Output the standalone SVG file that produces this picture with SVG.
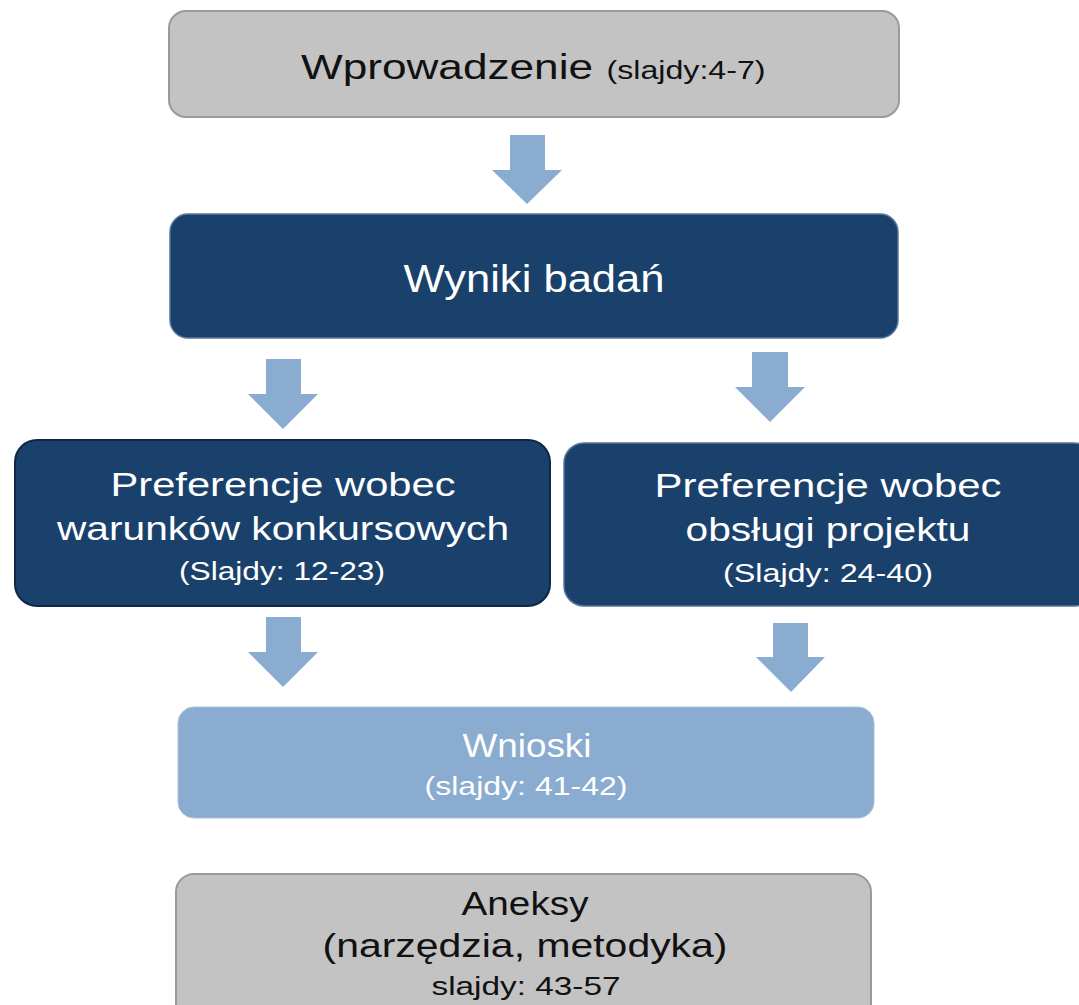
<svg xmlns="http://www.w3.org/2000/svg" width="1079" height="1005" viewBox="0 0 1079 1005">
<style>
.gray{fill:#c3c3c3;stroke:#9a9a9a;stroke-width:2}
.navy{fill:#1a416c;stroke:#5b7596;stroke-width:1.5}
.light{fill:#8aacd0;stroke:#a9c1dc;stroke-width:1}
.arrow{fill:#8aacd0}
text{font-family:"Liberation Sans",Arial,sans-serif;text-anchor:middle}
.dk{fill:#111}
.wt{fill:#fff}
</style>
<rect width="1079" height="1005" fill="#fff"/>
<g id="connectors">
<polygon class="arrow" points="510,135 545,135 545,170 562,170 527,204 492,170 510,170"/>
<polygon class="arrow" points="266,359 301,359 301,394 318,394 283,429 248,394 266,394"/>
<polygon class="arrow" points="752,352 788,352 788,387 805,387 770,422 735,387 752,387"/>
<polygon class="arrow" points="266,617 301,617 301,652 318,652 283,687 248,652 266,652"/>
<polygon class="arrow" points="773,623 808,623 808,657 825,657 791,692 756,657 773,657"/>
</g>
<g id="wprowadzenie">
<rect class="gray" x="169" y="11" width="730" height="106" rx="17"/>
<text class="dk" x="447" y="79" font-size="35" textLength="292" lengthAdjust="spacingAndGlyphs">Wprowadzenie</text>
<text class="dk" x="686" y="79" font-size="25" textLength="159" lengthAdjust="spacingAndGlyphs">(slajdy:4-7)</text>
</g>
<g id="wyniki">
<rect class="navy" x="170" y="214" width="728" height="124" rx="18"/>
<text class="wt" x="534" y="292" font-size="38" textLength="261" lengthAdjust="spacingAndGlyphs">Wyniki badań</text>
</g>
<g id="pref-warunki">
<rect x="15" y="440" width="535" height="166" rx="22" fill="#1a416c" stroke="#0e2745" stroke-width="2"/>
<text class="wt" x="283" y="496" font-size="34" textLength="345" lengthAdjust="spacingAndGlyphs">Preferencje wobec</text>
<text class="wt" x="283" y="540" font-size="34" textLength="452" lengthAdjust="spacingAndGlyphs">warunków konkursowych</text>
<text class="wt" x="282" y="580" font-size="26" textLength="206" lengthAdjust="spacingAndGlyphs">(Slajdy: 12-23)</text>
</g>
<g id="pref-obsluga">
<rect class="navy" x="564" y="443" width="530" height="163" rx="20"/>
<text class="wt" x="828" y="497" font-size="34" textLength="347" lengthAdjust="spacingAndGlyphs">Preferencje wobec</text>
<text class="wt" x="828" y="541" font-size="34" textLength="285" lengthAdjust="spacingAndGlyphs">obsługi projektu</text>
<text class="wt" x="828" y="582" font-size="26" textLength="210" lengthAdjust="spacingAndGlyphs">(Slajdy: 24-40)</text>
</g>
<g id="wnioski">
<rect class="light" x="178" y="707" width="696" height="111" rx="16"/>
<text class="wt" x="527" y="757" font-size="34" textLength="129" lengthAdjust="spacingAndGlyphs">Wnioski</text>
<text class="wt" x="526" y="795" font-size="26" textLength="203" lengthAdjust="spacingAndGlyphs">(slajdy: 41-42)</text>
</g>
<g id="aneksy">
<rect class="gray" x="176" y="874" width="695" height="150" rx="18"/>
<text class="dk" x="525" y="915" font-size="34" textLength="127" lengthAdjust="spacingAndGlyphs">Aneksy</text>
<text class="dk" x="525" y="957" font-size="34" textLength="405" lengthAdjust="spacingAndGlyphs">(narzędzia, metodyka)</text>
<text class="dk" x="526" y="995" font-size="26" textLength="189" lengthAdjust="spacingAndGlyphs">slajdy: 43-57</text>
</g>
</svg>
